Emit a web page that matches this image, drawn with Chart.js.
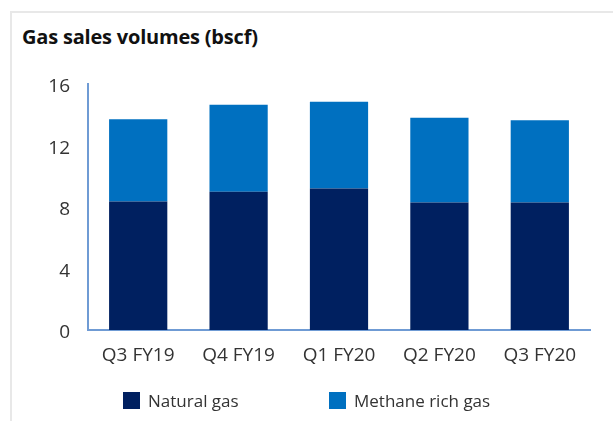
<!DOCTYPE html>
<html lang="en">
<head>
    <meta charset="UTF-8">
    <title>Gas sales volumes</title>
    <style>
        html, body {
            margin: 0;
            padding: 0;
            background: #fff;
        }
        body {
            width: 613px;
            height: 421px;
            position: relative;
            overflow: hidden;
            font-family: "Open Sans", sans-serif;
        }
        .frame {
            position: absolute;
            left: 10px;
            top: 11px;
            width: 620px;
            height: 430px;
            border-top: 2px solid #e8e8e8;
            border-left: 2px solid #e8e8e8;
        }
        .title {
            position: absolute;
            left: 22px;
            top: 23px;
            font-size: 20px;
            font-weight: bold;
            color: #111;
            letter-spacing: -0.2px;
        }
        .chart-container {
            position: absolute;
            left: 0;
            top: 0;
            width: 613px;
            height: 421px;
        }
        .legend {
            position: absolute;
            top: 389px;
            font-size: 17px;
            color: #333;
        }
        .legend span.box {
            display: inline-block;
            width: 17px;
            height: 17px;
            vertical-align: -2px;
            margin-right: 8px;
        }
    </style>
</head>
<body>

<div class="frame"></div>
<div class="title">Gas sales volumes (bscf)</div>

<div class="chart-container">
    <canvas id="gasChart" width="613" height="421"></canvas>
</div>

<div class="legend" style="left:123px"><span class="box" style="background:#002060"></span>Natural gas</div>
<div class="legend" style="left:329px"><span class="box" style="background:#0070c0"></span>Methane rich gas</div>

<script src="https://cdn.jsdelivr.net/npm/chart.js"></script>
<script>
    // valores
    const quarters = ['Q3 FY19', 'Q4 FY19', 'Q1 FY20', 'Q2 FY20', 'Q3 FY20'];
    const naturalGas = [8.35, 9.0, 9.2, 8.3, 8.3];
    const methaneRichGas = [5.35, 5.65, 5.65, 5.5, 5.35];
    const yTicks = [0, 4, 8, 12, 16];

    const axisColor = '#6f9bd4';
    const tickFont = { family: 'Open Sans', size: 19 };

    const ctx = document.getElementById('gasChart').getContext('2d');
    const chart = new Chart(ctx, {
        type: 'bar',
        data: {
            labels: quarters,
            datasets: [{
                label: 'Natural gas',
                data: naturalGas,
                backgroundColor: '#002060',
                categoryPercentage: 1,
                barPercentage: 0.58
            }, {
                label: 'Methane rich gas',
                data: methaneRichGas,
                backgroundColor: '#0070c0',
                categoryPercentage: 1,
                barPercentage: 0.58
            }]
        },
        options: {
            responsive: false,
            animation: false,
            layout: {
                padding: { left: 0, right: 23, top: 84, bottom: 0 }
            },
            plugins: {
                legend: { display: false },
                tooltip: { enabled: false }
            },
            scales: {
                x: {
                    stacked: true,
                    grid: { display: false, drawTicks: false },
                    border: { color: axisColor, width: 2 },
                    ticks: { color: '#333', font: tickFont, padding: 14 },
                    afterFit: s => { s.height = 91; }
                },
                y: {
                    stacked: true,
                    min: 0,
                    max: 16,
                    afterBuildTicks: s => { s.ticks = yTicks.map(v => ({ value: v })); },
                    grid: { display: false, drawTicks: false },
                    border: { color: axisColor, width: 2 },
                    ticks: { color: '#333', font: tickFont, padding: 18, labelOffset: 3 },
                    afterFit: s => { s.width = 88; }
                }
            }
        }
    });
</script>

</body>
</html>
